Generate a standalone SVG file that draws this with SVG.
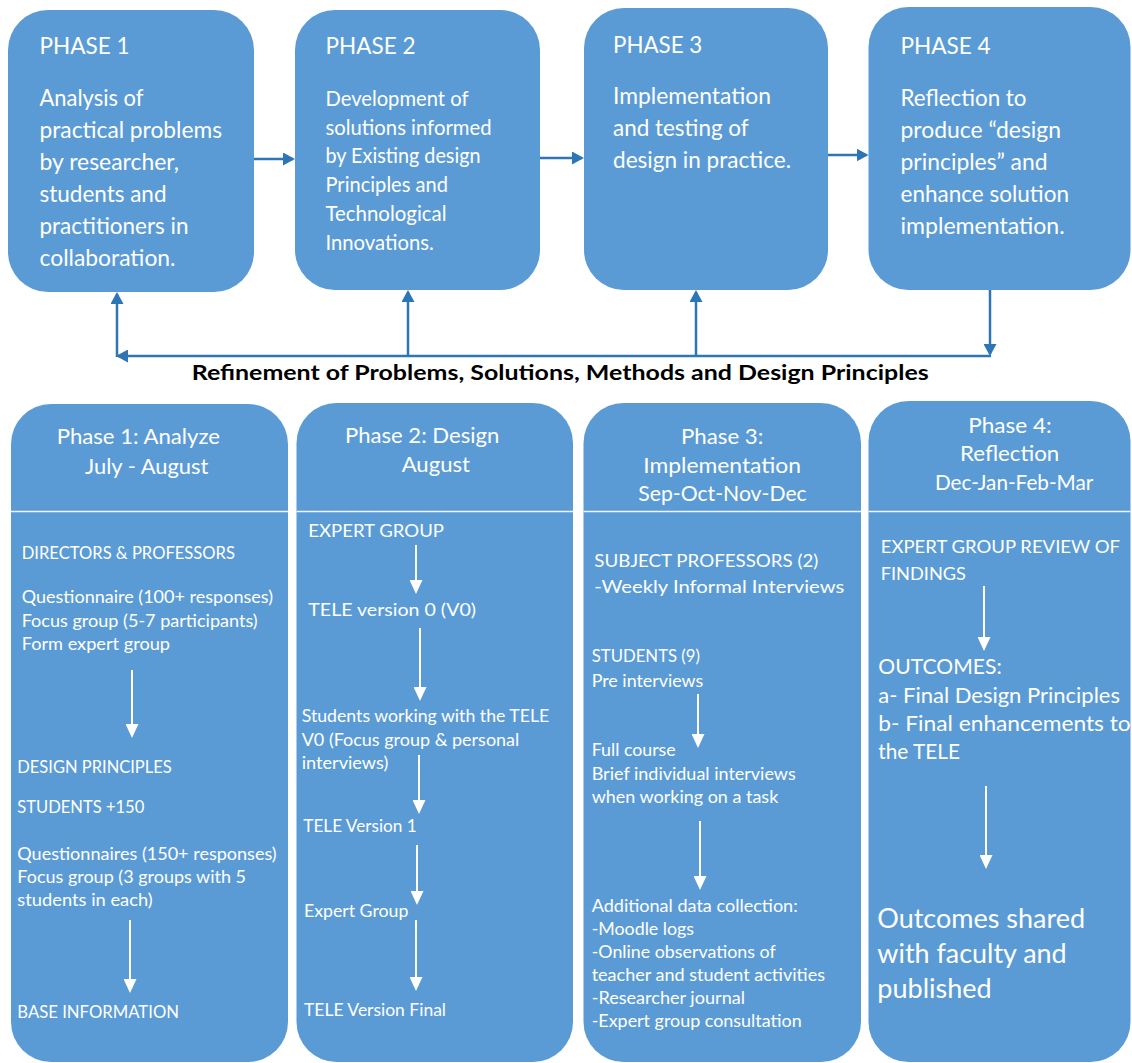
<svg xmlns="http://www.w3.org/2000/svg" width="1132" height="1063" viewBox="0 0 1132 1063">
  <defs>
    <style>
      .box { fill: #5B9BD5; }
      .t { font-family: Lato, "Open Sans", "Liberation Sans", sans-serif; fill: #FFFFFF; }
      .hd { font-size: 23px; }
      .bd { font-size: 23px; }
      .bd2 { font-size: 20.5px; }
      .ct { font-size: 21px; }
      .cb { font-size: 17.5px; }
      .cl { font-size: 21px; }
      .cx { font-size: 27px; }
      .title { font-family: Lato, "Open Sans", "Liberation Sans", sans-serif; font-weight: 700; font-size: 20px; fill: #000000; }
      .conn { stroke: #2E75B6; stroke-width: 2.5; fill: none; }
      .flow { stroke: #FFFFFF; stroke-width: 2; fill: none; }
      .rule { stroke: #EEF5FB; stroke-width: 1.5; }
    </style>
    <marker id="blue-head" markerUnits="userSpaceOnUse" markerWidth="12" markerHeight="13" viewBox="0 0 12 13" refX="10" refY="6.5" orient="auto">
      <path d="M0,0 L12,6.5 L0,13 z" fill="#2E75B6"/>
    </marker>
    <marker id="white-head" markerUnits="userSpaceOnUse" markerWidth="14" markerHeight="13" viewBox="0 0 14 13" refX="12" refY="6.5" orient="auto">
      <path d="M0,0 L14,6.5 L0,13 z" fill="#FFFFFF"/>
    </marker>
  </defs>

  <rect width="1132" height="1063" fill="#FFFFFF"/>

  <!-- Upper row: the four phases -->
  <g id="phase1">
    <rect class="box" x="8" y="10" width="246" height="282" rx="40"/>
    <text class="t hd" x="39.5" y="54" textLength="90" lengthAdjust="spacingAndGlyphs">PHASE 1</text>
    <text class="t bd" x="39.5" y="106" textLength="104" lengthAdjust="spacingAndGlyphs">Analysis of</text>
    <text class="t bd" x="39.5" y="138" textLength="182.5" lengthAdjust="spacingAndGlyphs">practical problems</text>
    <text class="t bd" x="39.5" y="170" textLength="139.5" lengthAdjust="spacingAndGlyphs">by researcher,</text>
    <text class="t bd" x="39.5" y="202" textLength="127" lengthAdjust="spacingAndGlyphs">students and</text>
    <text class="t bd" x="39.5" y="234" textLength="149" lengthAdjust="spacingAndGlyphs">practitioners in</text>
    <text class="t bd" x="39.5" y="266" textLength="136" lengthAdjust="spacingAndGlyphs">collaboration.</text>
  </g>

  <g id="phase2">
    <rect class="box" x="295" y="10" width="245" height="280" rx="40"/>
    <text class="t hd" x="325.5" y="54" textLength="90" lengthAdjust="spacingAndGlyphs">PHASE 2</text>
    <text class="t bd2" x="325.5" y="106" textLength="143" lengthAdjust="spacingAndGlyphs">Development of</text>
    <text class="t bd2" x="325.5" y="134.7" textLength="166" lengthAdjust="spacingAndGlyphs">solutions informed</text>
    <text class="t bd2" x="325.5" y="163.4" textLength="155" lengthAdjust="spacingAndGlyphs">by Existing design</text>
    <text class="t bd2" x="325.5" y="192.1" textLength="122.5" lengthAdjust="spacingAndGlyphs">Principles and</text>
    <text class="t bd2" x="325.5" y="220.8" textLength="121" lengthAdjust="spacingAndGlyphs">Technological</text>
    <text class="t bd2" x="325.5" y="249.5" textLength="108.3" lengthAdjust="spacingAndGlyphs">Innovations.</text>
  </g>

  <g id="phase3">
    <rect class="box" x="584" y="8" width="244" height="282" rx="40"/>
    <text class="t hd" x="613" y="52.5" textLength="89.3" lengthAdjust="spacingAndGlyphs">PHASE 3</text>
    <text class="t bd" x="613" y="104" textLength="158" lengthAdjust="spacingAndGlyphs">Implementation</text>
    <text class="t bd" x="613" y="136" textLength="135.7" lengthAdjust="spacingAndGlyphs">and testing of</text>
    <text class="t bd" x="613" y="167.5" textLength="178" lengthAdjust="spacingAndGlyphs">design in practice.</text>
  </g>

  <g id="phase4">
    <rect class="box" x="868.5" y="7" width="262" height="283" rx="40"/>
    <text class="t hd" x="900.5" y="54" textLength="90.2" lengthAdjust="spacingAndGlyphs">PHASE 4</text>
    <text class="t bd" x="900.5" y="106" textLength="126" lengthAdjust="spacingAndGlyphs">Reflection to</text>
    <text class="t bd" x="900.5" y="138" textLength="160.5" lengthAdjust="spacingAndGlyphs">produce “design</text>
    <text class="t bd" x="900.5" y="170" textLength="147" lengthAdjust="spacingAndGlyphs">principles” and</text>
    <text class="t bd" x="900.5" y="202" textLength="168.5" lengthAdjust="spacingAndGlyphs">enhance solution</text>
    <text class="t bd" x="900.5" y="234" textLength="164.2" lengthAdjust="spacingAndGlyphs">implementation.</text>
  </g>

  <!-- Phase-to-phase arrows and the refinement loop -->
  <g id="connectors">
    <path class="conn" d="M254,159 H293" marker-end="url(#blue-head)"/>
    <path class="conn" d="M540,158 H582" marker-end="url(#blue-head)"/>
    <path class="conn" d="M828,155 H866.5" marker-end="url(#blue-head)"/>
    <path class="conn" d="M990,290 V354" marker-end="url(#blue-head)"/>
    <path class="conn" d="M991,356 H118" marker-end="url(#blue-head)"/>
    <path class="conn" d="M117,357 V294" marker-end="url(#blue-head)"/>
    <path class="conn" d="M408,356 V292" marker-end="url(#blue-head)"/>
    <path class="conn" d="M696,356 V292" marker-end="url(#blue-head)"/>
  </g>

  <text id="loop-label" class="title" x="191.7" y="380" textLength="737" lengthAdjust="spacingAndGlyphs">Refinement of Problems, Solutions, Methods and Design Principles</text>

  <!-- Lower row: schedule and activities of each phase -->
  <g id="phase1-detail">
    <rect class="box" x="11" y="404" width="277" height="658" rx="40"/>
    <line class="rule" x1="11" y1="511.5" x2="288" y2="511.5"/>
    <text class="t ct" x="56.7" y="443.5" textLength="163.3" lengthAdjust="spacingAndGlyphs">Phase 1: Analyze</text>
    <text class="t ct" x="85" y="473.5" textLength="123.3" lengthAdjust="spacingAndGlyphs">July - August</text>
    <text class="t cb" x="21.7" y="559" textLength="213.3" lengthAdjust="spacingAndGlyphs">DIRECTORS &amp; PROFESSORS</text>
    <text class="t cb" x="21.7" y="603" textLength="251.3" lengthAdjust="spacingAndGlyphs">Questionnaire (100+ responses)</text>
    <text class="t cb" x="21.7" y="626.5" textLength="236" lengthAdjust="spacingAndGlyphs">Focus group (5-7 participants)</text>
    <text class="t cb" x="21.7" y="650" textLength="148.3" lengthAdjust="spacingAndGlyphs">Form expert group</text>
    <path class="flow" d="M132,670 V736" marker-end="url(#white-head)"/>
    <text class="t cb" x="17.3" y="772.5" textLength="154.4" lengthAdjust="spacingAndGlyphs">DESIGN PRINCIPLES</text>
    <text class="t cb" x="17.3" y="813" textLength="127" lengthAdjust="spacingAndGlyphs">STUDENTS +150</text>
    <text class="t cb" x="17.3" y="859.5" textLength="259.4" lengthAdjust="spacingAndGlyphs">Questionnaires (150+ responses)</text>
    <text class="t cb" x="17.3" y="882.5" textLength="228.7" lengthAdjust="spacingAndGlyphs">Focus group (3 groups with 5</text>
    <text class="t cb" x="17.3" y="905.5" textLength="135.4" lengthAdjust="spacingAndGlyphs">students in each)</text>
    <path class="flow" d="M130,920 V991" marker-end="url(#white-head)"/>
    <text class="t cb" x="17.3" y="1017.5" textLength="161.7" lengthAdjust="spacingAndGlyphs">BASE INFORMATION</text>
  </g>

  <g id="phase2-detail">
    <rect class="box" x="296.5" y="403" width="276.5" height="659" rx="40"/>
    <line class="rule" x1="296.5" y1="511.5" x2="573" y2="511.5"/>
    <text class="t ct" x="345" y="442.5" textLength="154.3" lengthAdjust="spacingAndGlyphs">Phase 2: Design</text>
    <text class="t ct" x="401.7" y="472" textLength="68.3" lengthAdjust="spacingAndGlyphs">August</text>
    <text class="t cb" x="308.3" y="536.5" textLength="135.7" lengthAdjust="spacingAndGlyphs">EXPERT GROUP</text>
    <path class="flow" d="M416,545 V592" marker-end="url(#white-head)"/>
    <text class="t cb" x="308.3" y="616" textLength="167.7" lengthAdjust="spacingAndGlyphs">TELE version 0 (V0)</text>
    <path class="flow" d="M420,628 V699" marker-end="url(#white-head)"/>
    <text class="t cb" x="301.7" y="722" textLength="247.6" lengthAdjust="spacingAndGlyphs">Students working with the TELE</text>
    <text class="t cb" x="301.7" y="745.5" textLength="217.6" lengthAdjust="spacingAndGlyphs">V0 (Focus group &amp; personal</text>
    <text class="t cb" x="301.7" y="768.5" textLength="86.6" lengthAdjust="spacingAndGlyphs">interviews)</text>
    <path class="flow" d="M419,755 V812" marker-end="url(#white-head)"/>
    <text class="t cb" x="303.3" y="832" textLength="113.4" lengthAdjust="spacingAndGlyphs">TELE Version 1</text>
    <path class="flow" d="M417,845 V903" marker-end="url(#white-head)"/>
    <text class="t cb" x="304" y="916.5" textLength="104.3" lengthAdjust="spacingAndGlyphs">Expert Group</text>
    <path class="flow" d="M416,920 V989" marker-end="url(#white-head)"/>
    <text class="t cb" x="304" y="1016" textLength="142" lengthAdjust="spacingAndGlyphs">TELE Version Final</text>
  </g>

  <g id="phase3-detail">
    <rect class="box" x="583.5" y="403" width="277.5" height="659" rx="40"/>
    <line class="rule" x1="583.5" y1="511.5" x2="861" y2="511.5"/>
    <text class="t ct" x="681" y="444" textLength="82.3" lengthAdjust="spacingAndGlyphs">Phase 3:</text>
    <text class="t ct" x="643.3" y="472.8" textLength="157.7" lengthAdjust="spacingAndGlyphs">Implementation</text>
    <text class="t ct" x="638.3" y="501" textLength="168.4" lengthAdjust="spacingAndGlyphs">Sep-Oct-Nov-Dec</text>
    <text class="t cb" x="594.3" y="567" textLength="224" lengthAdjust="spacingAndGlyphs">SUBJECT PROFESSORS (2)</text>
    <text class="t cb" x="594.3" y="592.5" textLength="250" lengthAdjust="spacingAndGlyphs">-Weekly Informal Interviews</text>
    <text class="t cb" x="591.7" y="661.5" textLength="108.3" lengthAdjust="spacingAndGlyphs">STUDENTS (9)</text>
    <text class="t cb" x="591.7" y="686.5" textLength="111.6" lengthAdjust="spacingAndGlyphs">Pre interviews</text>
    <path class="flow" d="M698,694 V746" marker-end="url(#white-head)"/>
    <text class="t cb" x="591.7" y="756" textLength="84" lengthAdjust="spacingAndGlyphs">Full course</text>
    <text class="t cb" x="591.7" y="780" textLength="204" lengthAdjust="spacingAndGlyphs">Brief individual interviews</text>
    <text class="t cb" x="591.7" y="803" textLength="186.6" lengthAdjust="spacingAndGlyphs">when working on a task</text>
    <path class="flow" d="M700,821 V888" marker-end="url(#white-head)"/>
    <text class="t cb" x="591.7" y="911.5" textLength="206" lengthAdjust="spacingAndGlyphs">Additional data collection:</text>
    <text class="t cb" x="591.7" y="935" textLength="102.3" lengthAdjust="spacingAndGlyphs">-Moodle logs</text>
    <text class="t cb" x="591.7" y="958" textLength="184" lengthAdjust="spacingAndGlyphs">-Online observations of</text>
    <text class="t cb" x="591.7" y="981" textLength="233.3" lengthAdjust="spacingAndGlyphs">teacher and student activities</text>
    <text class="t cb" x="591.7" y="1004" textLength="153.3" lengthAdjust="spacingAndGlyphs">-Researcher journal</text>
    <text class="t cb" x="591.7" y="1027" textLength="210" lengthAdjust="spacingAndGlyphs">-Expert group consultation</text>
  </g>

  <g id="phase4-detail">
    <rect class="box" x="868.5" y="401" width="262" height="661" rx="40"/>
    <line class="rule" x1="868.5" y1="511.5" x2="1130.5" y2="511.5"/>
    <text class="t ct" x="968.3" y="433" textLength="83.4" lengthAdjust="spacingAndGlyphs">Phase 4:</text>
    <text class="t ct" x="960" y="461" textLength="99.3" lengthAdjust="spacingAndGlyphs">Reflection</text>
    <text class="t ct" x="935" y="490" textLength="158.3" lengthAdjust="spacingAndGlyphs">Dec-Jan-Feb-Mar</text>
    <text class="t cb" x="880.7" y="553" textLength="239.3" lengthAdjust="spacingAndGlyphs">EXPERT GROUP REVIEW OF</text>
    <text class="t cb" x="880.7" y="580" textLength="85.3" lengthAdjust="spacingAndGlyphs">FINDINGS</text>
    <path class="flow" d="M984,586 V649" marker-end="url(#white-head)"/>
    <text class="t cl" x="878.3" y="674" textLength="123.4" lengthAdjust="spacingAndGlyphs">OUTCOMES:</text>
    <text class="t cl" x="878.3" y="702.5" textLength="241.7" lengthAdjust="spacingAndGlyphs">a- Final Design Principles</text>
    <text class="t cl" x="878.3" y="731" textLength="252.4" lengthAdjust="spacingAndGlyphs">b- Final enhancements to</text>
    <text class="t cl" x="878.3" y="759" textLength="81.7" lengthAdjust="spacingAndGlyphs">the TELE</text>
    <path class="flow" d="M986,786 V867" marker-end="url(#white-head)"/>
    <text class="t cx" x="877.3" y="928" textLength="207.7" lengthAdjust="spacingAndGlyphs">Outcomes shared</text>
    <text class="t cx" x="877.3" y="963" textLength="189.4" lengthAdjust="spacingAndGlyphs">with faculty and</text>
    <text class="t cx" x="877.3" y="998" textLength="114.4" lengthAdjust="spacingAndGlyphs">published</text>
  </g>
</svg>
